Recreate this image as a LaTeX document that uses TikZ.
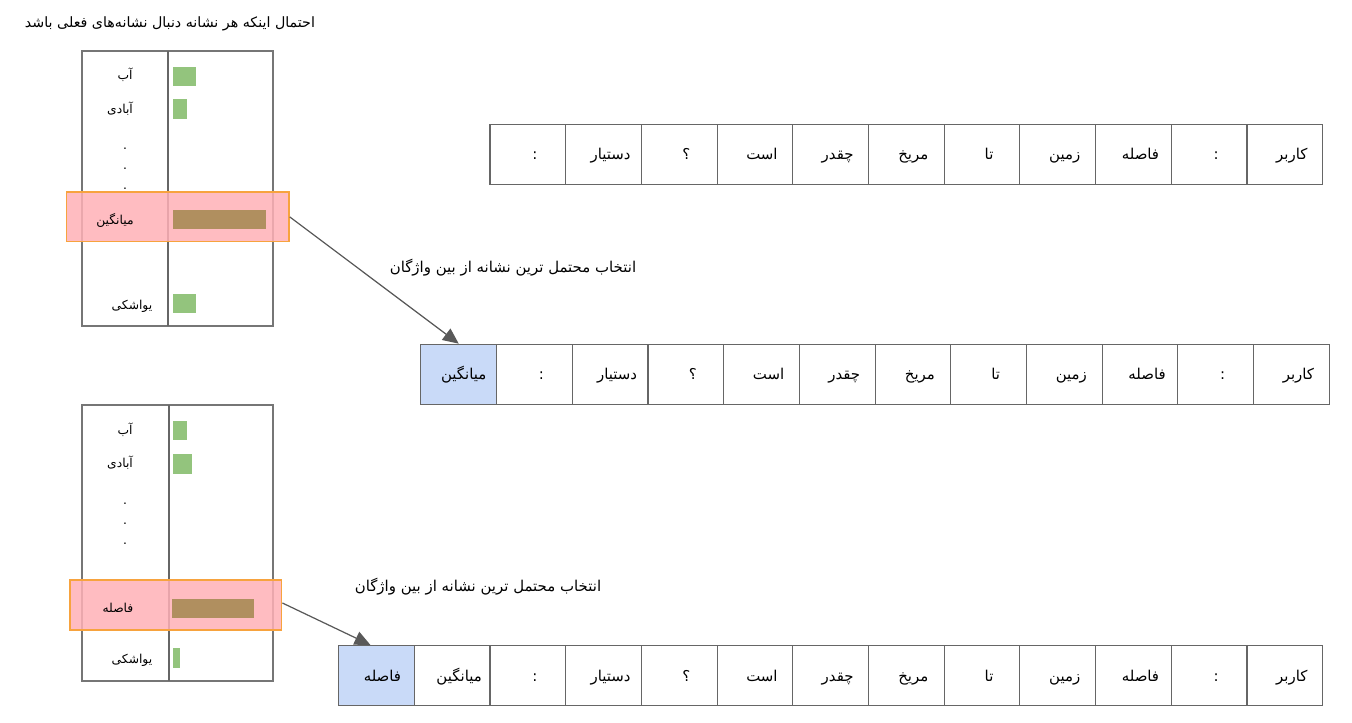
\documentclass[tikz,border=0pt]{standalone}
\usepackage{fontspec}
\newfontfamily\fa[Script=Arabic]{DejaVu Sans}
\TeXXeTstate=1
\usetikzlibrary{arrows.meta}
\definecolor{cellgray}{HTML}{666666}
\definecolor{boxgray}{HTML}{767676}
\definecolor{arrowgray}{HTML}{595959}
\definecolor{bargreen}{HTML}{93C47D}
\definecolor{barbrown}{HTML}{B08F5F}
\definecolor{pickpink}{HTML}{FFB0B6}
\definecolor{pickorange}{HTML}{F7A33E}
\definecolor{chosenblue}{HTML}{C9DAF8}

\begin{document}
\begin{tikzpicture}[x=0.02cm, y=-0.02cm,
    cell/.style={draw=cellgray, line width=0.6pt, minimum width=1.514cm, minimum height=1.2cm, inner sep=0pt},
    word/.style={font=\fa\fontsize{8.5}{10}\selectfont, inner sep=0pt, text height=7.7pt, text depth=1.3pt},
    small/.style={font=\fa\fontsize{7}{8}\selectfont, inner sep=0pt, text height=6.5pt, text depth=1pt},
    pick/.style={draw=pickorange, fill=pickpink, fill opacity=0.85, line width=0.8pt, inner sep=0pt},
    arr/.style={draw=arrowgray, line width=0.7pt, -{Triangle[length=9pt,width=8pt]}}]
    \useasboundingbox (0,0) rectangle (1352,723);

    % Title
    \node[word, font=\fa\fontsize{8.1}{10}\selectfont] (title) at (170,22) {\beginR احتمال اینکه هر نشانه دنبال نشانه‌های فعلی باشد\endR};

    % Rows of tokens
    \foreach \w [count=\i] in {کاربر,:,فاصله,زمین,تا,مریخ,چقدر,است,؟,دستیار,:} {
        \node[cell] (a\i) at ({1322.7-(\i-0.5)*75.7},154.3) {};
        \node[word] (wa\i) at ([xshift=0.14cm]a\i.center) {\beginR\w\endR};
    }
    \foreach \w [count=\i] in {کاربر,:,فاصله,زمین,تا,مریخ,چقدر,است,؟,دستیار,:} {
        \node[cell] (b\i) at ({1329.3-(\i-0.5)*75.7},374.2) {};
        \node[word] (wb\i) at ([xshift=0.14cm]b\i.center) {\beginR\w\endR};
    }
    \node[cell, fill=chosenblue] (b12) at ({1329.3-11.5*75.7},374.2) {};
    \node[word] (wb12) at ([xshift=0.1cm]b12.center) {\beginR میانگین\endR};
    \foreach \w [count=\i] in {کاربر,:,فاصله,زمین,تا,مریخ,چقدر,است,؟,دستیار,:,میانگین} {
        \node[cell] (c\i) at ({1322.7-(\i-0.5)*75.7},675.5) {};
        \node[word] (wc\i) at ([xshift=0.14cm]c\i.center) {\beginR\w\endR};
    }
    \node[cell, fill=chosenblue] (c13) at ({1322.7-12.5*75.7},675.5) {};
    \node[word] (wc13) at ([xshift=0.12cm]c13.center) {\beginR فاصله\endR};

    % First table
    \draw[boxgray, line width=1.1pt] (82,50.7) rectangle (273,326);
    \draw[cellgray, line width=0.6pt] (168,50.7) -- (168,326);
    \fill[bargreen] (172.7,66.7) rectangle (196,85.7);
    \fill[bargreen] (172.7,99.3) rectangle (186.7,119.3);
    \fill[bargreen] (172.7,294) rectangle (195.7,313.3);
    \node[small] (pa1) at (125,75) {\beginR آب\endR};
    \node[small] (pa2) at (120,109) {\beginR آبادی\endR};
    \node[small] (pa3) at (125,145) {.};
    \node[small] (pa4) at (125,165) {.};
    \node[small] (pa5) at (125,185) {.};
    \node[small] (pa7) at (132,305) {\beginR یواشکی\endR};
    \node[pick, minimum width=4.446cm, minimum height=0.994cm] (hiA) at (177.9,216.9) {};
    \fill[barbrown] (172.7,210) rectangle (266,229);
    \node[small] (pa6) at (115,220) {\beginR میانگین\endR};

    % Second table
    \draw[boxgray, line width=1.1pt] (82,405) rectangle (273,681);
    \draw[cellgray, line width=0.6pt] (169,405) -- (169,681);
    \fill[bargreen] (172.7,421) rectangle (186.7,440.3);
    \fill[bargreen] (172.7,454.3) rectangle (191.7,473.7);
    \fill[bargreen] (172.7,648.3) rectangle (180.3,667.7);
    \node[small] (pb1) at (125,430) {\beginR آب\endR};
    \node[small] (pb2) at (120,463) {\beginR آبادی\endR};
    \node[small] (pb3) at (125,500) {.};
    \node[small] (pb4) at (125,520) {.};
    \node[small] (pb5) at (125,540) {.};
    \node[small] (pb7) at (132,659) {\beginR یواشکی\endR};
    \node[pick, minimum width=4.234cm, minimum height=1cm] (hiB) at (175.9,605) {};
    \fill[barbrown] (172,599) rectangle (254,617.7);
    \node[small] (pb6) at (118,607.7) {\beginR فاصله\endR};

    % Picking the next token
    \draw[arr] (hiA.east) -- (b12.north);
    \node[word] (pickA) at (513,267) {\beginR انتخاب محتمل ترین نشانه از بین واژگان\endR};
    \draw[arr] ([yshift=0.04cm]hiB.east) -- ([xshift=-0.12cm]c13.north);
    \node[word] (pickB) at (478,586) {\beginR انتخاب محتمل ترین نشانه از بین واژگان\endR};
\end{tikzpicture}
\end{document}
